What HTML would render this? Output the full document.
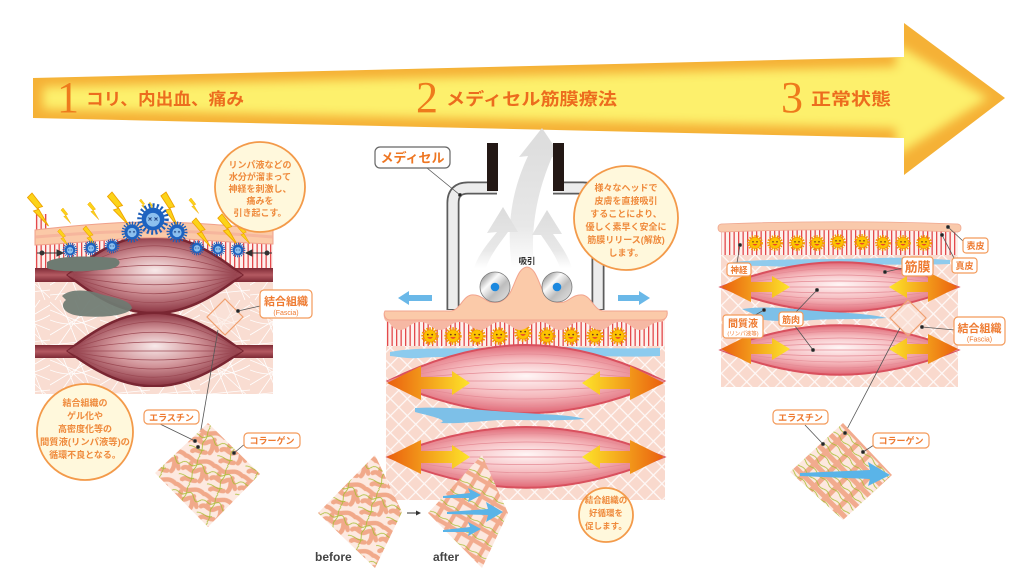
<!DOCTYPE html>
<html><head><meta charset="utf-8"><style>
html,body{margin:0;padding:0;background:#fff;}
svg{display:block;}
text{font-family:"Liberation Sans","Noto Sans CJK JP",sans-serif;}
</style></head><body>
<svg width="1024" height="581" viewBox="0 0 1024 581" xmlns="http://www.w3.org/2000/svg">
<defs>
<filter id="blur6" x="-10%" y="-50%" width="120%" height="200%"><feGaussianBlur stdDeviation="5"/></filter>
<clipPath id="arrowClip"><polygon points="33,78 904,57 904,23 1005,98 904,175 904,138 33,118"/></clipPath>
<pattern id="lat" width="12" height="12" patternUnits="userSpaceOnUse" patternTransform="rotate(45)"><rect width="12" height="12" fill="#f9d9cd"/><path d="M0,6H12M6,0V12" stroke="#fff" stroke-width="1.2" opacity=".85"/></pattern>
<pattern id="mesh" width="50" height="50" patternUnits="userSpaceOnUse"><rect width="50" height="50" fill="#f9ddd2"/><path d="M0,10 L50,30 M0,35 L50,5 M10,0 L30,50 M40,0 L5,50 M0,45 L50,40 M25,0 L45,50 M0,20 Q25,30 50,15 M0,2 L50,48" stroke="#fff" stroke-width=".8" fill="none"/></pattern>
<pattern id="str" width="4.5" height="10" patternUnits="userSpaceOnUse"><rect width="4.5" height="10" fill="#fdf1ed"/><rect width="1.3" height="10" fill="#e4494c"/></pattern>
<pattern id="pb" width="30" height="30" patternUnits="userSpaceOnUse" patternTransform="rotate(20)">
<rect width="30" height="30" fill="#fde9e0"/>
<g fill="none" stroke="#f1a98a" stroke-width="4.5" stroke-linecap="round">
<path d="M-2,5 C5,2 9,9 15,6 S24,1 32,5"/><path d="M2,17 C6,12 11,20 16,15 S23,12 28,19"/><path d="M5,28 C8,24 13,27 18,25"/><path d="M22,10 C20,14 25,18 22,24"/><path d="M8,10 C10,12 6,14 9,16"/></g>
<g fill="none" stroke="#a9bd32" stroke-width=".8"><path d="M0,11 C5,8 8,14 12,11 S18,5 22,11 S27,14 30,11"/><path d="M14,0 C11,5 16,9 13,14 S16,22 13,30"/><path d="M0,24 C6,21 10,27 16,23"/></g>
</pattern>
<pattern id="pa" width="16" height="16" patternUnits="userSpaceOnUse" patternTransform="rotate(45)">
<rect width="16" height="16" fill="#fde8df"/><path d="M0,8H16M8,0V16" stroke="#f2ab8e" stroke-width="5"/>
<path d="M0,3.5 Q4,1.5 8,3.5 T16,3.5 M0,12.5 Q4,14.5 8,12.5 T16,12.5" stroke="#a9bd32" stroke-width=".8" fill="none"/></pattern>
<pattern id="pa2" width="14" height="14" patternUnits="userSpaceOnUse" patternTransform="rotate(30)">
<rect width="14" height="14" fill="#fde8df"/><path d="M0,7H14M7,0V14" stroke="#f2ab8e" stroke-width="4.2"/>
<path d="M0,3 Q3.5,1.5 7,3 T14,3" stroke="#a9bd32" stroke-width=".7" fill="none"/></pattern>
<radialGradient id="mg" cx="50%" cy="50%" r="50%" fy="45%"><stop offset="0" stop-color="#fff6f6"/><stop offset=".55" stop-color="#f5b9bd"/><stop offset="1" stop-color="#e06876"/></radialGradient>
<radialGradient id="mgd" cx="50%" cy="50%" r="50%" fy="45%"><stop offset="0" stop-color="#f8eaea"/><stop offset=".5" stop-color="#d2959a"/><stop offset="1" stop-color="#8a3340"/></radialGradient>
<linearGradient id="band" x1="0" y1="0" x2="0" y2="1"><stop offset="0" stop-color="#7e2a35"/><stop offset=".5" stop-color="#b45a62"/><stop offset="1" stop-color="#7e2a35"/></linearGradient>
<linearGradient id="oaL" x1="0" y1="0" x2="1" y2="0"><stop offset="0" stop-color="#ea5f0e"/><stop offset="1" stop-color="#fde52a"/></linearGradient>
<linearGradient id="oaR" x1="0" y1="0" x2="1" y2="0"><stop offset="0" stop-color="#fde52a"/><stop offset="1" stop-color="#ea5f0e"/></linearGradient>
<linearGradient id="garr" x1="0" y1="0" x2="0" y2="1"><stop offset="0" stop-color="#dcdcdc"/><stop offset=".7" stop-color="#e8e8e8"/><stop offset="1" stop-color="#fff"/></linearGradient>
<linearGradient id="roll" x1="0" y1="0" x2="1" y2="1"><stop offset="0" stop-color="#6b6b6b"/><stop offset=".35" stop-color="#fafafa"/><stop offset=".6" stop-color="#bdbdbd"/><stop offset="1" stop-color="#e8e8e8"/></linearGradient>
<g id="sun"><circle r="6.8" fill="none" stroke="#f29a00" stroke-width="2.2" stroke-dasharray="1.4 1.2"/><circle r="5.6" fill="#fcc300" stroke="#f08c00" stroke-width=".6"/><circle cx="-2" cy="-1.2" r=".8" fill="#6b3a1a"/><circle cx="2" cy="-1.2" r=".8" fill="#6b3a1a"/><path d="M-2.6,1 Q0,4.2 2.6,1 Z" fill="#e8452a"/></g>
<g id="vir"><circle r="9" fill="none" stroke="#1b5db8" stroke-width="3" stroke-dasharray="1.3 1.5"/><circle r="7.6" fill="#1e63c0"/><circle r="4.6" cy=".5" fill="#8cc0ee"/><path d="M-3,-1 l2,2 m0,-2 l-2,2 M1,-1 l2,2 m0,-2 l-2,2" stroke="#1b3f80" stroke-width=".6"/></g>
<polygon id="bolt" points="0,0 7,9 4,10 11,22 1,12 4,11 -3,3" fill="#fcd319" stroke="#eea200" stroke-width=".6"/>
</defs>

<!-- Big arrow -->
<polygon points="33,78 904,57 904,23 1005,98 904,175 904,138 33,118" fill="#f5b136"/>
<g clip-path="url(#arrowClip)"><polygon points="43,87 896,67 896,44 988,98 896,156 896,128 43,109" fill="#fdf06c" filter="url(#blur6)"/></g>
<text x="57" y="112" font-size="44" fill="#ee7a1c" style="font-family:'Liberation Serif',serif">1</text>
<text x="86" y="105" font-size="17" font-weight="bold" fill="#ec6c1e" textLength="158" lengthAdjust="spacingAndGlyphs">コリ、内出血、痛み</text>
<text x="416" y="112" font-size="44" fill="#ee7a1c" style="font-family:'Liberation Serif',serif">2</text>
<text x="446" y="105" font-size="17" font-weight="bold" fill="#ec6c1e" textLength="171" lengthAdjust="spacingAndGlyphs">メディセル筋膜療法</text>
<text x="781" y="112" font-size="44" fill="#ee7a1c" style="font-family:'Liberation Serif',serif">3</text>
<text x="811" y="105" font-size="17" font-weight="bold" fill="#ec6c1e" textLength="80" lengthAdjust="spacingAndGlyphs">正常状態</text>

<!-- ===== Panel 1 ===== -->
<rect x="35" y="240" width="238" height="154" fill="url(#mesh)"/>
<rect x="35" y="214" width="12" height="50" fill="url(#str)"/>
<rect x="255" y="214" width="18" height="50" fill="url(#str)"/>
<rect x="35" y="236" width="238" height="32" fill="url(#str)"/>
<rect x="35" y="268" width="238" height="14" fill="url(#band)"/>
<rect x="35" y="345" width="238" height="13" fill="url(#band)"/>
<path d="M68,275 C130,222 177,222 242,275 C177,326 130,326 68,275 Z" fill="url(#mgd)" stroke="#7a2632" stroke-width="2.5"/>
<g fill="none" stroke="#9c4a54" stroke-width=".7"><path d="M68,275 C130,236 177,236 242,275"/><path d="M68,275 C130,250 177,250 242,275"/><path d="M68,275 C130,262 177,262 242,275"/><path d="M68,275 L242,275"/><path d="M68,275 C130,288 177,288 242,275"/><path d="M68,275 C130,300 177,300 242,275"/><path d="M68,275 C130,312 177,312 242,275"/></g>
<path d="M68,351 C130,300 177,300 242,351 C177,398 130,398 68,351 Z" fill="url(#mgd)" stroke="#7a2632" stroke-width="2.5"/>
<g fill="none" stroke="#9c4a54" stroke-width=".7"><path d="M68,351 C130,312 177,312 242,351"/><path d="M68,351 C130,326 177,326 242,351"/><path d="M68,351 C130,339 177,339 242,351"/><path d="M68,351 L242,351"/><path d="M68,351 C130,363 177,363 242,351"/><path d="M68,351 C130,375 177,375 242,351"/><path d="M68,351 C130,386 177,386 242,351"/></g>
<rect x="35" y="387" width="238" height="7" fill="url(#mesh)"/>
<path d="M47,262 C60,255 90,256 115,258 C125,262 118,270 100,270 C80,272 55,272 47,268 Z" fill="#6e7b72"/>
<path d="M62,296 C70,288 90,290 100,294 C115,298 130,300 132,308 C128,316 100,318 80,316 C62,314 60,304 66,300 Z" fill="#6e7b72" opacity=".92"/>
<path d="M35,230 C70,226 110,222 150,222 C195,222 235,226 273,230 L273,244 C240,243 205,240 170,238 C150,237 130,238 110,240 C80,242 60,244 35,245 Z" fill="#fbc9a7" stroke="#f0a08a" stroke-width="1"/>
<path d="M35,237 C70,234 110,231 150,231 C195,231 235,234 273,237" fill="none" stroke="#f4ae98" stroke-width="3" opacity=".7"/>
<!-- lightning -->
<use href="#bolt" transform="translate(32,193) scale(1.5)"/>
<use href="#bolt" transform="translate(63,208) scale(.7)"/>
<use href="#bolt" transform="translate(90,202) scale(.8)"/>
<use href="#bolt" transform="translate(112,192) scale(1.5)"/>
<use href="#bolt" transform="translate(141,199) scale(.55)"/>
<use href="#bolt" transform="translate(166,192) scale(1.5) rotate(8)"/>
<use href="#bolt" transform="translate(191,198) scale(.7)"/>
<use href="#bolt" transform="translate(196,218) scale(1.3)"/>
<use href="#bolt" transform="translate(222,214) scale(1.4)"/>
<use href="#bolt" transform="translate(240,224) scale(.9)"/>
<use href="#bolt" transform="translate(86,226) scale(1)"/>
<use href="#bolt" transform="translate(60,229) scale(.8)"/>
<use href="#bolt" transform="translate(150,202) scale(.45)"/>
<!-- viruses -->
<use href="#vir" transform="translate(153,219) scale(1.5)"/>
<use href="#vir" transform="translate(132,232) scale(1)"/>
<use href="#vir" transform="translate(177,232) scale(1)"/>
<use href="#vir" transform="translate(70,250) scale(.7)"/>
<use href="#vir" transform="translate(91,248) scale(.7)"/>
<use href="#vir" transform="translate(112,246) scale(.7)"/>
<use href="#vir" transform="translate(197,248) scale(.7)"/>
<use href="#vir" transform="translate(218,249) scale(.7)"/>
<use href="#vir" transform="translate(238,250) scale(.7)"/>
<g stroke="#333" stroke-width="1" fill="#333"><path d="M37,253 H60"/><polygon points="63,253 57,250 57,256"/><circle cx="42" cy="253" r="2"/><path d="M249,253 H272"/><polygon points="246,253 252,250 252,256"/><circle cx="267" cy="253" r="2"/></g>
<!-- fascia diamond -->
<polygon points="225,299 243,317 225,335 207,317" fill="#fbe5dc" fill-opacity=".5" stroke="#f0a070" stroke-width="1.2"/>
<g stroke="#555" stroke-width=".8" fill="#222"><path d="M238,311 L260,306"/><circle cx="238" cy="311" r="1.6"/><path d="M218,330 L198,447"/></g>
<rect x="260" y="290" width="52" height="28" rx="4" fill="#fff" stroke="#f39a5a" stroke-width="1.2"/>
<text x="286" y="305" font-size="11" font-weight="bold" fill="#ee7a30" text-anchor="middle">結合組織</text>
<text x="286" y="315" font-size="7" fill="#ee7a30" text-anchor="middle">(Fascia)</text>
<!-- callout circle 1 -->
<circle cx="260" cy="187" r="45" fill="#fff8dc" stroke="#f39a4a" stroke-width="1.8"/>
<g font-size="9" font-weight="bold" fill="#ef8a3c" text-anchor="middle"><text x="260" y="168">リンパ液などの</text><text x="260" y="180">水分が溜まって</text><text x="260" y="192">神経を刺激し、</text><text x="260" y="204">痛みを</text><text x="260" y="216">引き起こす。</text></g>
<!-- callout circle 2 -->
<circle cx="85" cy="432" r="48" fill="#fff8dc" stroke="#f39a4a" stroke-width="1.8"/>
<g font-size="9" font-weight="bold" fill="#ef8a3c" text-anchor="middle"><text x="85" y="406">結合組織の</text><text x="85" y="419">ゲル化や</text><text x="85" y="432">高密度化等の</text><text x="85" y="445" textLength="90" lengthAdjust="spacingAndGlyphs">間質液(リンパ液等)の</text><text x="85" y="458">循環不良となる。</text></g>
<!-- bottom left diamond -->
<polygon points="208,423 260,474 208,527 155,473" fill="url(#pb)"/>
<g stroke="#555" stroke-width=".8" fill="#222"><path d="M160,424 L195,441"/><circle cx="195" cy="441" r="1.6"/><circle cx="198" cy="447" r="1.6"/><path d="M246,443 L234,453"/><circle cx="234" cy="453" r="1.6"/></g>
<rect x="144" y="410" width="55" height="14" rx="4" fill="#fff" stroke="#f39a5a" stroke-width="1.2"/>
<text x="171.5" y="421" font-size="9" font-weight="bold" fill="#ee7a30" text-anchor="middle">エラスチン</text>
<rect x="244" y="433" width="56" height="15" rx="4" fill="#fff" stroke="#f39a5a" stroke-width="1.2"/>
<text x="272" y="444" font-size="9" font-weight="bold" fill="#ee7a30" text-anchor="middle">コラーゲン</text>

<!-- ===== Panel 2 ===== -->
<path d="M512,268 C506,225 512,190 528,156 L519,157 L542,128 L562,158 L552,157 C538,190 530,225 534,268 Z" fill="url(#garr)"/>
<path d="M474,268 C478,255 488,243 497,232 L487,233 L503,207 L518,232 L508,232 C500,243 490,255 486,268 Z" fill="url(#garr)"/>
<path d="M572,268 C568,255 560,244 553,234 L562,234 L547,210 L532,235 L541,235 C548,245 556,256 560,268 Z" fill="url(#garr)"/>
<path d="M497,188 H468 Q453,188 453,203 V310" fill="none" stroke="#5c5c5c" stroke-width="13"/>
<path d="M497,188 H468 Q453,188 453,203 V309" fill="none" stroke="#ececec" stroke-width="9.5"/>
<rect x="487" y="143" width="11" height="48" fill="#231815"/>
<path d="M553,188 H583 Q598,188 598,203 V310" fill="none" stroke="#5c5c5c" stroke-width="13"/>
<path d="M553,188 H583 Q598,188 598,203 V309" fill="none" stroke="#ececec" stroke-width="9.5"/>
<rect x="553" y="143" width="11" height="48" fill="#231815"/>
<g stroke="#555" stroke-width=".8" fill="#222"><path d="M427,168 L460,195"/><circle cx="460" cy="195" r="1.6"/></g>
<rect x="375" y="147" width="75" height="21" rx="5" fill="#fff" stroke="#666" stroke-width="1.2"/>
<text x="412.5" y="162.5" font-size="13" font-weight="bold" fill="#ee7622" text-anchor="middle">メディセル</text>
<text x="527" y="264" font-size="8.5" font-weight="bold" fill="#333" text-anchor="middle">吸引</text>
<rect x="386" y="318" width="279" height="182" fill="url(#lat)"/>
<rect x="386" y="318" width="279" height="28" fill="url(#str)"/>
<g>
<use href="#sun" transform="translate(430,336) scale(1.1)"/><use href="#sun" transform="translate(453,336) scale(1.1)"/><use href="#sun" transform="translate(477,336) scale(1.1)"/><use href="#sun" transform="translate(499,336) scale(1.1)"/><use href="#sun" transform="translate(523,333) scale(1.1)"/><use href="#sun" transform="translate(547,336) scale(1.1)"/><use href="#sun" transform="translate(571,336) scale(1.1)"/><use href="#sun" transform="translate(595,336) scale(1.1)"/><use href="#sun" transform="translate(618,336) scale(1.1)"/>
</g>
<path d="M390,352 C420,346 460,350 500,347 C540,344 590,350 660,348 L660,356 C620,358 580,354 540,357 C500,360 450,355 420,358 C405,359 395,356 390,356 Z" fill="#8ccbee"/>
<g stroke="#2a6fc0" stroke-width="1.2"><path d="M465,356 L487,349"/><path d="M566,349 L588,356"/></g>
<path d="M388,381 C485,333 567,333 664,381 C567,424 485,424 388,381 Z" fill="url(#mg)" stroke="#d9505e" stroke-width="2"/>
<g fill="none" stroke="#e58c96" stroke-width=".7"><path d="M388,381 C485,345 567,345 664,381"/><path d="M388,381 C485,357 567,357 664,381"/><path d="M388,381 C485,369 567,369 664,381"/><path d="M388,381 L664,381"/><path d="M388,381 C485,393 567,393 664,381"/><path d="M388,381 C485,405 567,405 664,381"/><path d="M388,381 C485,415 567,415 664,381"/></g>
<path d="M415,408 C450,406 500,412 540,414 C560,415 575,416 585,419 C560,421 530,420 500,420 C480,421 460,424 440,423 C450,420 430,416 415,412 Z" fill="#7dc0e8"/>
<path d="M388,457 C485,417 567,417 664,457 C567,498 485,498 388,457 Z" fill="url(#mg)" stroke="#d9505e" stroke-width="2"/>
<g fill="none" stroke="#e58c96" stroke-width=".7"><path d="M388,457 C485,425 567,425 664,457"/><path d="M388,457 C485,437 567,437 664,457"/><path d="M388,457 C485,447 567,447 664,457"/><path d="M388,457 L664,457"/><path d="M388,457 C485,467 567,467 664,457"/><path d="M388,457 C485,478 567,478 664,457"/><path d="M388,457 C485,489 567,489 664,457"/></g>
<path d="M387,383 L421,366 L421,377 L452,377 L452,371 L470,383 L452,395 L452,389 L421,389 L421,400 Z" fill="url(#oaL)"/>
<path d="M664,383 L630,366 L630,377 L600,377 L600,371 L582,383 L600,395 L600,389 L630,389 L630,400 Z" fill="url(#oaR)"/>
<path d="M387,457 L421,440 L421,451 L452,451 L452,445 L470,457 L452,469 L452,463 L421,463 L421,474 Z" fill="url(#oaL)"/>
<path d="M664,457 L630,440 L630,451 L600,451 L600,445 L582,457 L600,469 L600,463 L630,463 L630,474 Z" fill="url(#oaR)"/>
<path d="M385,311 L450,311 C460,311 462,297 471,295 C480,294 484,300 490,302 C500,304 505,300 510,293 C516,282 518,268 527,267 C536,268 538,282 544,293 C549,300 554,304 564,302 C570,300 574,294 583,295 C592,297 594,311 604,311 L667,311 C668,318 664,322 660,322 C650,322 648,330 640,330 C632,330 630,322 620,322 C610,322 608,330 600,330 C592,330 590,322 580,322 C570,322 568,330 560,330 C552,330 550,322 540,322 C530,322 528,330 520,330 C512,330 510,322 500,322 C490,322 488,330 480,330 C472,330 470,322 460,322 C450,322 448,330 440,330 C432,330 430,322 420,322 C410,322 408,330 400,330 C392,330 390,322 388,322 C383,321 383,313 385,311 Z" fill="#f6b8a4"/>
<path d="M385,311 L450,311 C460,311 462,297 471,295 C480,294 484,300 490,302 C500,304 505,300 510,293 C516,282 518,268 527,267 C536,268 538,282 544,293 C549,300 554,304 564,302 C570,300 574,294 583,295 C592,297 594,311 604,311 L667,311 C668,316 666,320 660,320 L390,320 C385,320 383,314 385,311 Z" fill="#fbcaa9" stroke="#f2a48e" stroke-width="1"/>
<circle cx="495" cy="287" r="15" fill="url(#roll)" stroke="#7a7a7a" stroke-width=".8"/><circle cx="495" cy="287" r="4.3" fill="#1b88df"/>
<circle cx="557" cy="287" r="15" fill="url(#roll)" stroke="#7a7a7a" stroke-width=".8"/><circle cx="557" cy="287" r="4.3" fill="#1b88df"/>
<path d="M398,298 L409,291 L409,295 L432,295 L432,301 L409,301 L409,305 Z" fill="#6ab8e8"/>
<path d="M650,298 L639,291 L639,295 L618,295 L618,301 L639,301 L639,305 Z" fill="#6ab8e8"/>
<circle cx="626" cy="218" r="52" fill="#fff8dc" stroke="#f39a4a" stroke-width="1.8"/>
<g font-size="9" font-weight="bold" fill="#ef8a3c" text-anchor="middle"><text x="626" y="191">様々なヘッドで</text><text x="626" y="204">皮膚を直接吸引</text><text x="626" y="217">することにより、</text><text x="626" y="230">優しく素早く安全に</text><text x="626" y="243">筋膜リリース(解放)</text><text x="626" y="256">します。</text></g>
<circle cx="606" cy="515" r="27" fill="#fff8dc" stroke="#f39a4a" stroke-width="1.8"/>
<g font-size="8.5" font-weight="bold" fill="#ef8a3c" text-anchor="middle"><text x="606" y="503">結合組織の</text><text x="606" y="516">好循環を</text><text x="606" y="529">促します。</text></g>
<polygon points="375,455 402,512 375,568 318,513" fill="url(#pb)"/>
<polygon points="482,455 508,513 482,568 428,513" fill="url(#pa2)"/>
<g fill="#5ab4e8"><path d="M443,496 L470,493 L468,488 L481,495 L468,502 L469,498 L443,498 Z"/><path d="M447,512 L488,509 L486,502 L503,512 L486,522 L488,515 L447,514 Z"/><path d="M443,530 L470,527 L468,522 L481,529 L468,536 L469,532 L443,532 Z"/></g>
<path d="M407,513 H418" stroke="#333" stroke-width="1"/><polygon points="421,513 416,510.5 416,515.5" fill="#333"/>
<text x="315" y="561" font-size="12" font-weight="bold" fill="#444">before</text>
<text x="433" y="561" font-size="12" font-weight="bold" fill="#444">after</text>

<!-- ===== Panel 3 ===== -->
<rect x="721" y="226" width="237" height="161" fill="url(#lat)"/>
<rect x="721" y="228" width="237" height="27" fill="url(#str)"/>
<path d="M721,224 C800,221 880,221 958,224 C962,225 962,231 958,232 C880,229 800,229 721,232 C717,231 717,225 721,224 Z" fill="#f9c9ab" stroke="#f0a890" stroke-width=".8"/>
<g>
<use href="#sun" transform="translate(755,243)"/><use href="#sun" transform="translate(775,243)"/><use href="#sun" transform="translate(797,243)"/><use href="#sun" transform="translate(817,243)"/><use href="#sun" transform="translate(838,242)"/><use href="#sun" transform="translate(862,242)"/><use href="#sun" transform="translate(883,243)"/><use href="#sun" transform="translate(903,243)"/><use href="#sun" transform="translate(924,243)"/>
</g>
<path d="M733,262 C780,258 830,260 880,258 C910,257 935,259 950,260 L950,264 C900,266 860,263 820,266 C790,268 760,265 733,266 Z" fill="#8fcbed"/>
<path d="M721,287 C804,254 875,254 958,287 C875,320 804,320 721,287 Z" fill="url(#mg)" stroke="#d9505e" stroke-width="2"/>
<g fill="none" stroke="#e58c96" stroke-width=".7"><path d="M721,287 C804,262 875,262 958,287"/><path d="M721,287 C804,271 875,271 958,287"/><path d="M721,287 C804,279 875,279 958,287"/><path d="M721,287 L958,287"/><path d="M721,287 C804,295 875,295 958,287"/><path d="M721,287 C804,303 875,303 958,287"/><path d="M721,287 C804,311 875,311 958,287"/></g>
<path d="M742,309 C770,305 800,310 830,312 C850,313 870,314 887,318 C860,320 830,318 800,321 C780,322 760,320 750,318 C760,315 748,312 742,309 Z" fill="#7dc0e8"/>
<path d="M721,350 C804,317 875,317 958,350 C875,383 804,383 721,350 Z" fill="url(#mg)" stroke="#d9505e" stroke-width="2"/>
<g fill="none" stroke="#e58c96" stroke-width=".7"><path d="M721,350 C804,325 875,325 958,350"/><path d="M721,350 C804,334 875,334 958,350"/><path d="M721,350 C804,342 875,342 958,350"/><path d="M721,350 L958,350"/><path d="M721,350 C804,358 875,358 958,350"/><path d="M721,350 C804,366 875,366 958,350"/><path d="M721,350 C804,374 875,374 958,350"/></g>
<path d="M721,287 L751,272 L751,282 L772,282 L772,276 L790,287 L772,298 L772,292 L751,292 L751,302 Z" fill="url(#oaL)"/>
<path d="M958,287 L928,272 L928,282 L907,282 L907,276 L889,287 L907,298 L907,292 L928,292 L928,302 Z" fill="url(#oaR)"/>
<path d="M721,349 L751,334 L751,344 L772,344 L772,338 L790,349 L772,360 L772,354 L751,354 L751,364 Z" fill="url(#oaL)"/>
<path d="M958,349 L928,334 L928,344 L907,344 L907,338 L889,349 L907,360 L907,354 L928,354 L928,364 Z" fill="url(#oaR)"/>
<polygon points="908,300 926,318 908,336 890,318" fill="#fbe5dc" fill-opacity=".5" stroke="#f0a070" stroke-width="1.2"/>
<g stroke="#555" stroke-width=".8" fill="#222">
<path d="M948,227 L964,242"/><circle cx="948" cy="227" r="1.6"/>
<path d="M942,235 L955,260"/><circle cx="942" cy="235" r="1.6"/>
<path d="M885,272 L903,268"/><circle cx="885" cy="272" r="1.6"/>
<path d="M740,245 L737,263"/><circle cx="740" cy="245" r="1.6"/>
<path d="M764,310 L750,318"/><circle cx="764" cy="310" r="1.6"/>
<path d="M795,313 L817,290 M795,326 L813,350"/><circle cx="817" cy="290" r="1.6"/><circle cx="813" cy="350" r="1.6"/>
<path d="M922,327 L955,330"/><circle cx="922" cy="327" r="1.6"/>
<path d="M900,328 L845,433"/>
</g>
<g fill="#fff" stroke="#f39a5a" stroke-width="1.2">
<rect x="963" y="238" width="25" height="15" rx="3"/><rect x="952" y="258" width="25" height="15" rx="3"/>
<rect x="902" y="257" width="31" height="19" rx="3"/><rect x="727" y="263" width="24" height="13" rx="3"/>
<rect x="723" y="315" width="40" height="23" rx="3"/><rect x="779" y="312" width="24" height="14" rx="3"/>
<rect x="954" y="317" width="51" height="28" rx="4"/>
</g>
<g font-weight="bold" fill="#ee7a30" text-anchor="middle">
<text x="975.5" y="249" font-size="9">表皮</text>
<text x="964.5" y="269" font-size="9">真皮</text>
<text x="917.5" y="271.5" font-size="13">筋膜</text>
<text x="739" y="273" font-size="8.5">神経</text>
<text x="743" y="327" font-size="10">間質液</text>
<text x="743" y="335.5" font-size="5.5" font-weight="normal">(リンパ液等)</text>
<text x="791" y="323" font-size="9">筋肉</text>
<text x="979.5" y="332" font-size="11">結合組織</text>
<text x="979.5" y="341.5" font-size="7" font-weight="normal">(Fascia)</text>
</g>
<polygon points="843,423 892,475 843,520 790,472" fill="url(#pa)"/>
<path d="M800,473 L870,470 L868,462 L890,475 L868,486 L870,479 L800,476 Z" fill="#5ab4e8"/>
<g stroke="#555" stroke-width=".8" fill="#222"><path d="M805,425 L823,444"/><circle cx="823" cy="444" r="1.6"/><circle cx="845" cy="433" r="1.6"/><path d="M874,445 L863,452"/><circle cx="863" cy="452" r="1.6"/></g>
<rect x="773" y="410" width="55" height="14" rx="4" fill="#fff" stroke="#f39a5a" stroke-width="1.2"/>
<text x="800.5" y="421" font-size="9" font-weight="bold" fill="#ee7a30" text-anchor="middle">エラスチン</text>
<rect x="873" y="433" width="56" height="15" rx="4" fill="#fff" stroke="#f39a5a" stroke-width="1.2"/>
<text x="901" y="444" font-size="9" font-weight="bold" fill="#ee7a30" text-anchor="middle">コラーゲン</text>
</svg>
</body></html>
